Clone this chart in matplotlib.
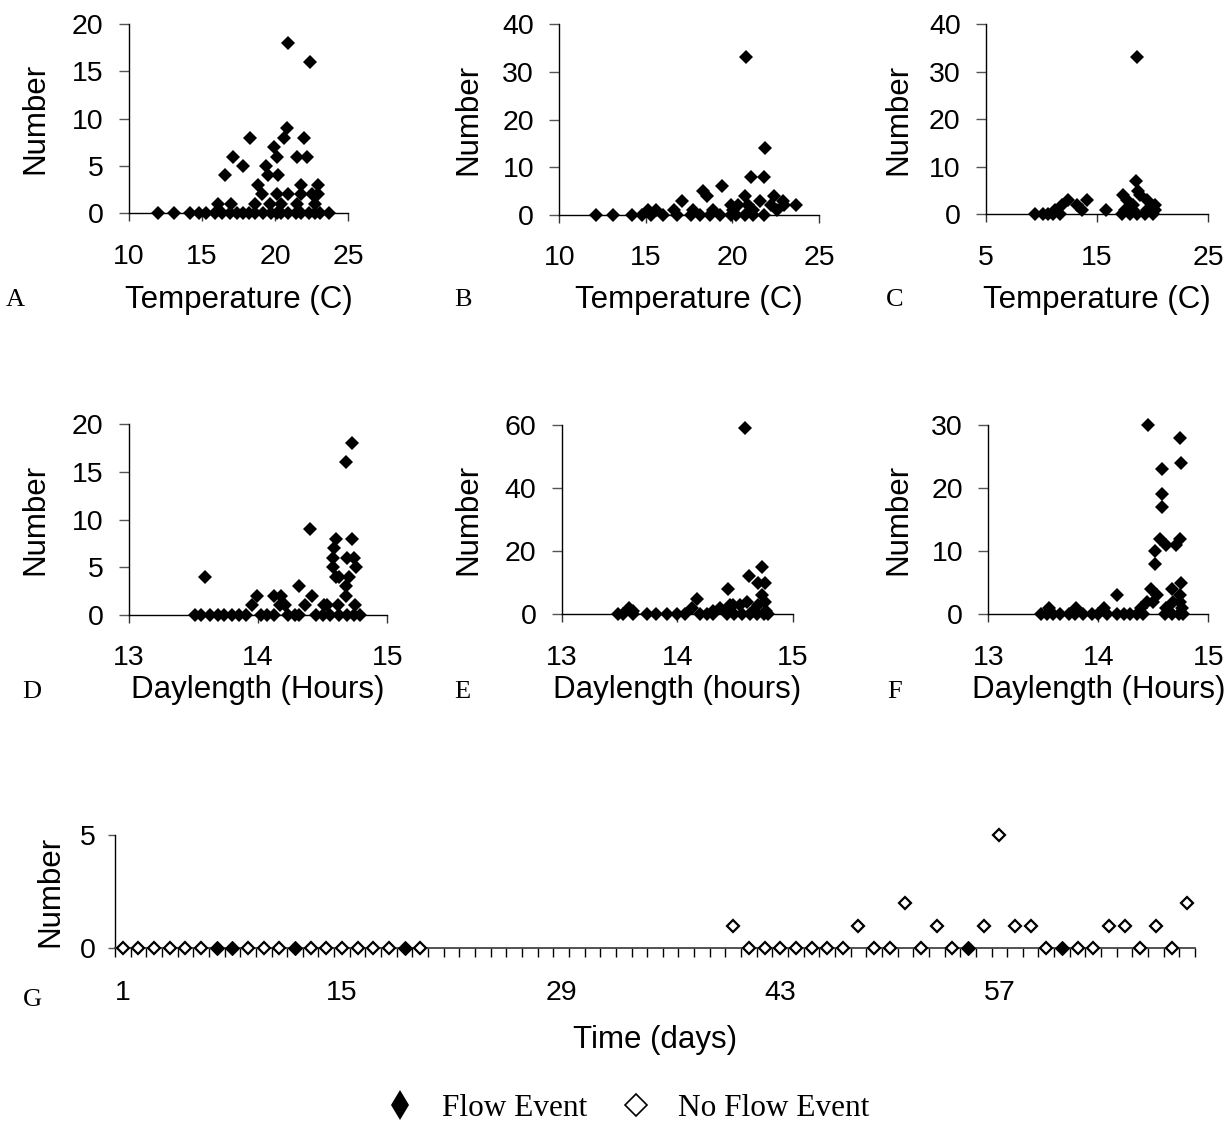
import matplotlib
matplotlib.use("Agg")
import matplotlib.pyplot as plt
from matplotlib.lines import Line2D
import numpy as np

# ---------------------------------------------------------------- data
# A: number vs water temperature (C)
temp_a = [20.9, 22.4, 20.8, 20.6, 18.3, 22.0, 19.9, 17.1, 20.1, 21.5, 22.2, 17.8, 19.4,
          16.6, 19.5, 20.2, 18.8, 21.8, 22.95, 19.1, 20.1, 20.9, 21.8, 22.5, 22.9,
          16.1, 17.0, 18.6, 19.65, 20.4, 21.5, 22.7,
          12.0, 13.1, 14.2, 14.8, 15.3, 15.9, 16.4, 16.9, 17.4, 17.8, 18.2, 18.6,
          19.2, 19.7, 20.1, 20.4, 20.9, 21.4, 21.8, 22.3, 22.7, 23.1, 23.7]
num_a = [18, 16, 9, 8, 8, 8, 7, 6, 6, 6, 6, 5, 5,
         4, 4, 4, 3, 3, 3, 2, 2, 2, 2, 2, 2,
         1, 1, 1, 1, 1, 1, 1,
         0, 0, 0, 0, 0, 0, 0, 0, 0, 0, 0, 0,
         0, 0, 0, 0, 0, 0, 0, 0, 0, 0, 0]

# B
temp_b = [20.8, 21.9, 21.05, 21.8, 19.4, 18.3, 18.55, 20.7, 22.4, 17.1, 22.9, 21.6,
          19.9, 20.3, 20.9, 22.2, 23.7, 23.0,
          15.1, 15.6, 16.6, 17.7, 18.9, 20.05, 21.2, 22.55,
          12.1, 13.1, 14.2, 14.75, 15.3, 16.0, 16.8, 17.6, 18.1, 18.7, 19.3, 19.9,
          20.2, 20.7, 21.2, 21.8]
num_b = [33, 14, 8, 8, 6, 5, 4, 4, 4, 3, 3, 3,
         2, 2, 2, 2, 2, 2,
         1, 1, 1, 1, 1, 1, 1, 1,
         0, 0, 0, 0, 0, 0, 0, 0, 0, 0, 0, 0,
         0, 0, 0, 0]

# C
temp_c = [18.6, 18.5, 18.7, 17.35, 18.85, 12.4, 14.05, 17.65, 19.45, 11.8, 13.15, 20.2,
          18.25, 11.2, 13.6, 15.8, 19.45, 20.2, 17.5,
          9.4, 10.15, 10.6, 11.05, 11.65, 17.2, 17.95, 18.55, 19.3, 20.05]
num_c = [33, 7, 5, 4, 4, 3, 3, 3, 3, 2, 2, 2,
         2, 1, 1, 1, 1, 1, 1,
         0, 0, 0, 0, 0, 0, 0, 0, 0, 0]

# D: number vs daylength (hours)
day_d = [14.73, 14.68, 14.40, 14.60, 14.73, 14.59, 14.58, 14.69, 14.74, 14.58, 14.76,
         14.60, 14.63, 14.70, 13.59, 14.68, 14.32, 14.68, 13.99, 14.12, 14.18, 14.42,
         13.95, 14.17, 14.21, 14.36, 14.51, 14.62, 14.75, 14.53,
         13.51, 13.56, 13.63, 13.69, 13.74, 13.80, 13.85, 13.91, 14.02, 14.07, 14.12,
         14.23, 14.29, 14.32, 14.45, 14.50, 14.56, 14.63, 14.69, 14.74, 14.79]
num_d = [18, 16, 9, 8, 8, 7, 6, 6, 6, 5, 5,
         4, 4, 4, 4, 3, 3, 2, 2, 2, 2, 2,
         1, 1, 1, 1, 1, 1, 1, 1,
         0, 0, 0, 0, 0, 0, 0, 0, 0, 0, 0,
         0, 0, 0, 0, 0, 0, 0, 0, 0, 0]

# E
day_e = [14.59, 14.73, 14.62, 14.70, 14.76, 14.44, 14.17, 14.73, 14.76, 14.48, 14.60,
         14.46, 14.54, 14.70, 14.37, 13.58, 14.13, 13.62, 14.66, 14.77, 14.31,
         13.49, 13.53, 13.62, 13.74, 13.82, 13.91, 14.00, 14.07, 14.20, 14.26, 14.31,
         14.43, 14.49, 14.56, 14.63, 14.69, 14.75, 14.79]
num_e = [59, 15, 12, 10, 10, 8, 5, 6, 4, 3, 4,
         3, 3, 3, 2, 2, 2, 1, 1, 1, 1,
         0, 0, 0, 0, 0, 0, 0, 0, 0, 0, 0,
         0, 0, 0, 0, 0, 0, 0]

# F
day_f = [14.45, 14.74, 14.58, 14.75, 14.58, 14.58, 14.56, 14.74, 14.62, 14.71, 14.52,
         14.52, 14.75, 14.48, 14.67, 14.74, 14.17, 14.53, 14.50, 14.68, 14.74, 14.44,
         14.39, 14.62, 14.76, 13.55, 13.80, 14.05,
         13.48, 13.53, 13.59, 13.65, 13.73, 13.79, 13.86, 13.94, 14.00, 14.08, 14.17,
         14.23, 14.29, 14.35, 14.41, 14.61, 14.67, 14.73, 14.77]
num_f = [30, 28, 23, 24, 19, 17, 12, 12, 11, 11, 10,
         8, 5, 4, 4, 3, 3, 3, 2, 2, 2, 2,
         1, 1, 1, 1, 1, 1,
         0, 0, 0, 0, 0, 0, 0, 0, 0, 0, 0,
         0, 0, 0, 0, 0, 0, 0, 0]

# G: daily counts over the study period, with flow-event days flagged
g_days = list(range(1, 21)) + list(range(40, 70))
g_counts = [0] * 20 + [1, 0, 0, 0, 0, 0, 0, 0, 1, 0, 0, 2, 0, 1, 0, 0, 1, 5, 1, 1,
                       0, 0, 0, 0, 1, 1, 0, 1, 0, 2]
g_flow = [d in (7, 8, 12, 19, 55, 61) for d in g_days]
g_n_days = 69
g_tick_days = [1, 15, 29, 43, 57]

# ---------------------------------------------------------------- figure
W, H, DPI = 1227, 1132, 100
plt.rcParams['font.family'] = ['Liberation Sans', 'DejaVu Sans']
SERIF = ['Liberation Serif', 'DejaVu Serif']

TICK_FS = 20.5
TITLE_FS = 22.5
LETTER_FS = 19
MS = 7.2

fig = plt.figure(figsize=(W / DPI, H / DPI), dpi=DPI)
fig.patch.set_facecolor('white')


def add_axes_px(x0, x1, ytop, ybot):
    return fig.add_axes([x0 / W, 1 - ybot / H, (x1 - x0) / W, (ybot - ytop) / H])


def scatter_panel(box, xs, ys, xlim, xticks, ylim, yticks, xlabel,
                  letter, letter_xy, xlabel_y, ylabel_x):
    x0, x1, ytop, ybot = box
    ax = add_axes_px(*box)
    ax.plot(xs, ys, ls='none', marker='D', ms=MS, mfc='black', mec='black',
            mew=0, clip_on=False, zorder=3)
    ax.set_xlim(*xlim)
    ax.set_ylim(*ylim)
    ax.set_xticks(xticks)
    ax.set_yticks(yticks)
    for s in ('top', 'right'):
        ax.spines[s].set_visible(False)
    for s in ('left', 'bottom'):
        ax.spines[s].set_linewidth(1.0)
        ax.spines[s].set_color('black')
    ax.tick_params(axis='x', direction='out', length=5.8, width=1.0,
                   pad=16, labelsize=TICK_FS, color='#333333')
    ax.tick_params(axis='y', direction='out', length=7.2, width=1.0,
                   pad=11, labelsize=TICK_FS, color='#555555')
    ax.set_xlabel(xlabel, fontsize=TITLE_FS, va='center')
    ax.xaxis.set_label_coords(0.5, (ybot - xlabel_y) / (ybot - ytop))
    ax.set_ylabel('Number', fontsize=TITLE_FS, va='center')
    ax.yaxis.set_label_coords((ylabel_x - x0) / (x1 - x0), 0.5)
    fig.text(letter_xy[0] / W, 1 - letter_xy[1] / H, letter, family=SERIF,
             fontsize=LETTER_FS, ha='center', va='center')
    return ax


scatter_panel((128.7, 348.3, 24, 213.3), temp_a, num_a, (10, 25), [10, 15, 20, 25],
              (0, 20), [0, 5, 10, 15, 20], 'Temperature (C)', 'A', (15, 300), 300, 35)
scatter_panel((559.3, 819, 24, 215), temp_b, num_b, (10, 25), [10, 15, 20, 25],
              (0, 40), [0, 10, 20, 30, 40], 'Temperature (C)', 'B', (463, 300), 300, 468)
scatter_panel((986, 1208.3, 24, 214.3), temp_c, num_c, (5, 25), [5, 15, 25],
              (0, 40), [0, 10, 20, 30, 40], 'Temperature (C)', 'C', (895, 300), 300, 898)
scatter_panel((128.7, 387.3, 424, 615), day_d, num_d, (13, 15), [13, 14, 15],
              (0, 20), [0, 5, 10, 15, 20], 'Daylength (Hours)', 'D', (32, 692), 690, 35)
scatter_panel((561.7, 792.7, 425, 614.3), day_e, num_e, (13, 15), [13, 14, 15],
              (0, 60), [0, 20, 40, 60], 'Daylength (hours)', 'E', (462, 692), 690, 468)
scatter_panel((988.3, 1208.3, 425, 614.3), day_f, num_f, (13, 15), [13, 14, 15],
              (0, 30), [0, 10, 20, 30], 'Daylength (Hours)', 'F', (895, 692), 690, 898)

# ---------------------------------------------------------------- panel G
gx0, gx1, gtop, gbot = 115, 1195, 835, 948.3
axg = add_axes_px(gx0, gx1, gtop, gbot)
days = np.array(g_days)
counts = np.array(g_counts)
flow = np.array(g_flow)
axg.plot(days[~flow], counts[~flow], ls='none', marker='D', ms=6.6, mfc='white',
         mec='black', mew=1.6, clip_on=False, zorder=3)
axg.plot(days[flow], counts[flow], ls='none', marker='D', ms=7.0, mfc='black',
         mec='black', mew=0.8, clip_on=False, zorder=3)
axg.set_xlim(0.5, g_n_days + 0.5)
axg.set_ylim(0, 5)
axg.set_yticks([0, 5])
axg.set_xticks(g_tick_days)
axg.set_xticklabels([str(d) for d in g_tick_days])
axg.set_xticks(np.arange(0.5, g_n_days + 1, 1), minor=True)
for s in ('top', 'right'):
    axg.spines[s].set_visible(False)
axg.spines['left'].set_linewidth(1.0)
axg.spines['bottom'].set_linewidth(1.3)
axg.spines['bottom'].set_color('#444444')
axg.tick_params(axis='x', which='major', length=0, pad=23, labelsize=TICK_FS)
axg.tick_params(axis='x', which='minor', direction='out', length=6.5, width=1.0,
                color='black')
axg.tick_params(axis='y', direction='out', length=5, width=1.0, pad=9,
                labelsize=TICK_FS, color='#555555')
axg.set_xlabel('Time (days)', fontsize=TITLE_FS, va='center')
axg.xaxis.set_label_coords(0.5, (gbot - 1040) / (gbot - gtop))
axg.set_ylabel('Number', fontsize=TITLE_FS, va='center')
axg.yaxis.set_label_coords((50 - gx0) / (gx1 - gx0), 0.5)
fig.text(32 / W, 1 - 1000 / H, 'G', family=SERIF, fontsize=LETTER_FS,
         ha='center', va='center')

# ---------------------------------------------------------------- legend
handles = [
    Line2D([], [], ls='none', marker='d', ms=15.5, mfc='black', mec='black', mew=0),
    Line2D([], [], ls='none', marker='D', ms=11.5, mfc='white', mec='black', mew=1.2),
]
fig.legend(handles, ['Flow Event', 'No Flow Event'], ncol=2, frameon=False,
           loc='center', bbox_to_anchor=(627 / W, 1 - 1108 / H),
           prop={'family': SERIF, 'size': 22.5}, handlelength=1.0,
           handletextpad=0.85, columnspacing=1.05, borderpad=0, borderaxespad=0)

fig.savefig('out.png', dpi=DPI, facecolor='white')
